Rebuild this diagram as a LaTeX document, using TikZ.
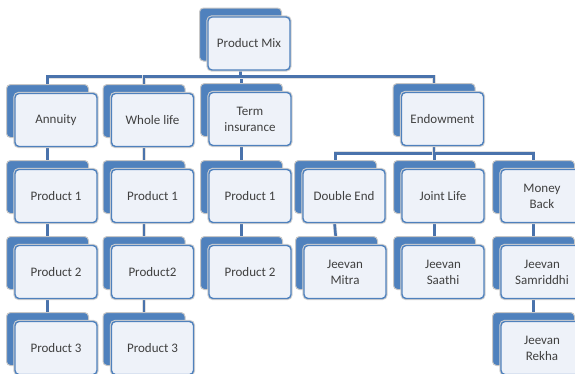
\documentclass[tikz,border=0pt]{standalone}
\usepackage{fontspec}
\setmainfont{Carlito}
\usepackage{tikz}
\usetikzlibrary{shadows,backgrounds}
\definecolor{boxblue}{HTML}{4F81BD}
\definecolor{boxfill}{HTML}{EEF2F9}
\definecolor{linkblue}{HTML}{4A73AC}
\definecolor{textgray}{HTML}{404040}
\tikzset{
  prod/.style={rounded corners=4pt, minimum width=82pt, minimum height=53pt,
    inner sep=1pt, align=center, fill=boxfill, draw=boxblue, line width=1.4pt,
    text=textgray, font=\fontsize{13}{16}\selectfont,
    copy shadow={shadow xshift=-8.5pt, shadow yshift=9pt, fill=boxblue,
      draw=black!22, line width=1pt},
    preaction={draw=black!18, line width=3.4pt}},
  link/.style={draw=linkblue, line width=2.6pt, preaction={draw=black!12, line width=3.8pt}}
}
\begin{document}
\begin{tikzpicture}[x=1pt,y=-1pt]
            \useasboundingbox (0,0) rectangle (575,373);

            \draw (249,43.5) node[prod]   (pm)   {Product Mix};

            \draw (56,120) node[prod]     (ann)  {Annuity};
            \draw (152.5,120) node[prod]  (whl)  {Whole life};
            \draw (250,119) node[prod]    (trm)  {Term\\insurance};
            \draw (442.5,119) node[prod]  (end)  {Endowment};

            \draw (56,196) node[prod]     (ann1) {Product 1};
            \draw (152.5,196) node[prod]  (whl1) {Product 1};
            \draw (250,196) node[prod]    (trm1) {Product 1};
            \draw (344,196) node[prod]    (dbl)  {Double End};
            \draw (443,196) node[prod]    (jnt)  {Joint Life};
            \draw (542,196) node[prod]    (mon)  {Money\\Back};

            \draw (56,272) node[prod]     (ann2) {Product 2};
            \draw (152.5,272) node[prod]  (whl2) {Product2};
            \draw (250,272) node[prod]    (trm2) {Product 2};
            \draw (345,272) node[prod]    (mit)  {Jeevan\\Mitra};
            \draw (443,272) node[prod]    (saa)  {Jeevan\\Saathi};
            \draw (542,272) node[prod]    (sam)  {Jeevan\\Samriddhi};

            \draw (56,348) node[prod]     (ann3) {Product 3};
            \draw (152.5,348) node[prod]  (whl3) {Product 3};
            \draw (542,348) node[prod]    (rek)  {Jeevan\\Rekha};

            \begin{pgfonlayer}{background}
            \draw[link] ([xshift=-8.5pt]pm.south) -- ++(0,6) -| ([xshift=-8.5pt]ann.north);
            \draw[link] ([xshift=-8.5pt]pm.south) -- ++(0,6) -| ([xshift=-8.5pt]whl.north);
            \draw[link] ([xshift=-8.5pt]pm.south) -- ++(0,6) -| ([xshift=-8.5pt]trm.north);
            \draw[link] ([xshift=-8.5pt]pm.south) -- ++(0,6) -| ([xshift=-8.5pt]end.north);

            \draw[link] ([xshift=-8.5pt]end.south) -- ++(0,7) -| ([xshift=-8.5pt]dbl.north);
            \draw[link] ([xshift=-8.5pt]end.south) -- ++(0,7) -| ([xshift=-8.5pt]jnt.north);
            \draw[link] ([xshift=-8.5pt]end.south) -- ++(0,7) -| ([xshift=-8.5pt]mon.north);

            \draw[link] ([xshift=-8.5pt]ann.south) -- ([xshift=-8.5pt]ann1.north);
            \draw[link] ([xshift=-8.5pt]ann1.south) -- ([xshift=-8.5pt]ann2.north);
            \draw[link] ([xshift=-8.5pt]ann2.south) -- ([xshift=-8.5pt]ann3.north);
            \draw[link] ([xshift=-8.5pt]whl.south) -- ([xshift=-8.5pt]whl1.north);
            \draw[link] ([xshift=-8.5pt]whl1.south) -- ([xshift=-8.5pt]whl2.north);
            \draw[link] ([xshift=-8.5pt]whl2.south) -- ([xshift=-8.5pt]whl3.north);
            \draw[link] ([xshift=-8.5pt]trm.south) -- ([xshift=-8.5pt]trm1.north);
            \draw[link] ([xshift=-8.5pt]trm1.south) -- ([xshift=-8.5pt]trm2.north);
            \draw[link] ([xshift=-9.5pt]dbl.south) -- ([xshift=-8.5pt]mit.north);
            \draw[link] ([xshift=-8.5pt]jnt.south) -- ([xshift=-8.5pt]saa.north);
            \draw[link] ([xshift=-8.5pt]mon.south) -- ([xshift=-8.5pt]sam.north);
            \draw[link] ([xshift=-8.5pt]sam.south) -- ([xshift=-8.5pt]rek.north);
            \end{pgfonlayer}

            \end{tikzpicture}
\end{document}
